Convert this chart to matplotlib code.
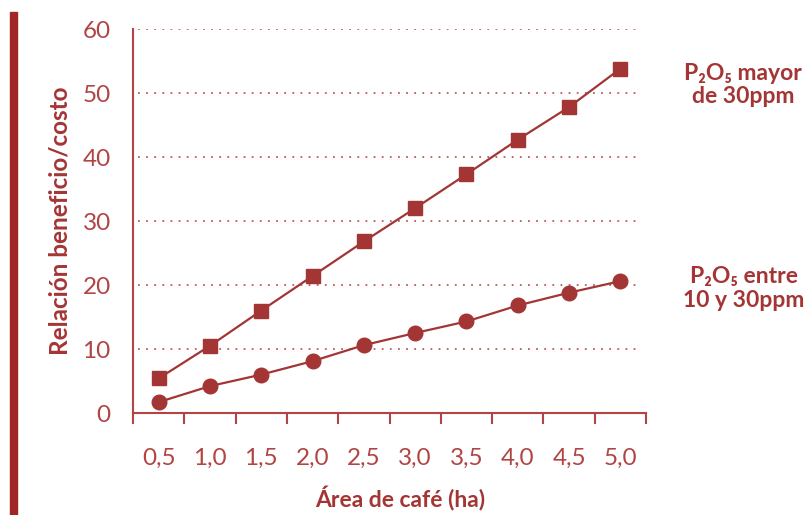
import matplotlib
matplotlib.use("Agg")
import matplotlib.pyplot as plt
import matplotlib.patches as mpatches

categories = ["0,5", "1,0", "1,5", "2,0", "2,5", "3,0", "3,5", "4,0", "4,5", "5,0"]
mayor_30 = [5.4, 10.5, 16.0, 21.4, 26.8, 32.0, 37.3, 42.7, 47.8, 53.8]
entre_10_30 = [1.7, 4.2, 6.0, 8.1, 10.6, 12.5, 14.3, 16.8, 18.8, 20.6]
yticks = [0, 10, 20, 30, 40, 50, 60]

RED = "#a33535"
LIGHT = "#b24444"
plt.rcParams['font.family'] = ['Lato', 'DejaVu Sans']

fig = plt.figure(figsize=(8.11, 5.15), dpi=100)
ax = fig.add_axes([133 / 811, 102 / 515, 513 / 811, 384 / 515])

x = list(range(len(categories)))
ax.plot(x, mayor_30, color=RED, lw=1.6, marker='s', ms=10.5, clip_on=False, zorder=3)
ax.plot(x, entre_10_30, color=RED, lw=1.6, marker='o', ms=10.5, clip_on=False, zorder=3)

ax.set_xlim(-0.5, len(categories) - 0.5)
ax.set_ylim(0, 60)
ax.set_xticks(x)
ax.set_xticklabels(categories)
ax.set_xticks([i - 0.5 for i in range(len(categories) + 1)], minor=True)
ax.set_yticks(yticks)
ax.set_yticks([0, 10], minor=True)
ax.tick_params(axis='both', which='major', length=0, labelsize=17.5, labelcolor=LIGHT)
ax.tick_params(axis='x', which='major', pad=25)
ax.tick_params(axis='y', which='major', pad=16)
ax.tick_params(axis='both', which='minor', length=8, width=1.5, color=LIGHT, direction='out')

for s in ['top', 'right']:
    ax.spines[s].set_visible(False)
for s in ['left', 'bottom']:
    ax.spines[s].set_color(LIGHT)
    ax.spines[s].set_linewidth(1.5)

for yv in yticks[1:]:
    ax.axhline(yv, xmin=0.01, xmax=0.99, color="#c05a5a", lw=1.3, ls=(0, (1, 3.5)), zorder=1)

ax.set_ylabel("Relación beneficio/costo", fontsize=17.5, fontweight='bold', color=RED, labelpad=8)
ax.set_xlabel("Área de café (ha)", fontsize=16.5, fontweight='bold', color=RED)
ax.xaxis.set_label_coords(0.52, -0.19)

fig.text(0.916, 0.835, "P₂O₅ mayor\nde 30ppm", ha='center', va='center', fontsize=16.5,
         fontweight='bold', color=RED, linespacing=1.15)
fig.text(0.917, 0.44, "P₂O₅ entre\n10 y 30ppm", ha='center', va='center', fontsize=16.5,
         fontweight='bold', color=RED, linespacing=1.15)

fig.patches.append(mpatches.Rectangle((10 / 811, 0), 7 / 811, 503 / 515, transform=fig.transFigure,
                                      color="#a02626", zorder=0))

fig.savefig("out.png", dpi=100)
